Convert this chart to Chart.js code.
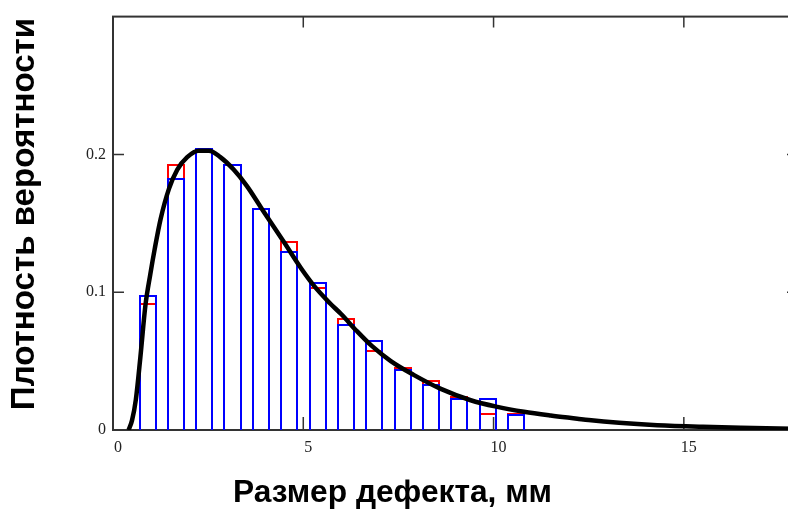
<!DOCTYPE html>
<html>
<head>
<meta charset="utf-8">
<script src="https://cdn.jsdelivr.net/npm/chart.js@4.4.1/dist/chart.umd.min.js"></script>
<style>
  html, body { margin: 0; padding: 0; background: #fff; overflow: hidden; }
  #wrap { width: 800px; height: 511px; }
</style>
</head>
<body>
<div id="wrap"><canvas id="myChart"></canvas></div>
<script>
// histogram bins (centres, mm) and the two sets of frequencies
const binCenters = [0.91, 1.65, 2.40, 3.14, 3.89, 4.63, 5.38, 6.12, 6.87, 7.61, 8.36, 9.10, 9.85, 10.59];
const freqRed  = [0.092, 0.193, 0.2045, 0.193, 0.161, 0.137, 0.1036, 0.081, 0.058, 0.046, 0.036, 0.0245, 0.0125, 0.0125];
const freqBlue = [0.098, 0.183, 0.2045, 0.193, 0.161, 0.130, 0.1074, 0.077, 0.065, 0.044, 0.0336, 0.023, 0.0233, 0.0115];

// density curve
const curveX = [0.41, 0.5, 0.6, 0.72, 0.85, 0.98, 1.1, 1.25, 1.47, 1.69, 1.95, 2.25, 2.52, 2.82, 3.17, 3.52, 3.9, 4.5, 4.95, 5.3, 5.7, 6.0, 6.4, 6.8, 7.3, 7.9, 8.6, 9.4, 10.1, 10.8, 11.5, 12.2, 12.5, 13.3, 14.3, 15.5, 16.5, 17.5, 18.0];
const curveY = [0, 0.007, 0.022, 0.053, 0.09, 0.113, 0.132, 0.153, 0.175, 0.189, 0.198, 0.2027, 0.2027, 0.198, 0.189, 0.177, 0.161, 0.136, 0.117, 0.104, 0.092, 0.084, 0.072, 0.061, 0.050, 0.040, 0.030, 0.0216, 0.0168, 0.0132, 0.0105, 0.0082, 0.0072, 0.0052, 0.0035, 0.0023, 0.0016, 0.0011, 0.0009];

const xTicks = [0, 5, 10, 15];
const yTicks = [0, 0.1, 0.2];
const xTitle = 'Размер дефекта, мм';
const yTitle = 'Плотность вероятности';

const tickFont = { family: '"Liberation Serif", "DejaVu Serif", serif', size: 16 };

// box round the plot, inward tick marks, axis titles
const frame = {
  id: 'frame',
  beforeDatasetsDraw(chart) {
    const { ctx, chartArea: a, scales: { x, y } } = chart;
    // snap bar edges to whole pixels so red and blue sides don't blend
    chart.data.datasets.forEach((ds, i) => {
      const meta = chart.getDatasetMeta(i);
      if (meta.type !== 'bar') return;
      meta.data.forEach(el => {
        const l = Math.round(el.x - el.width / 2), r = Math.round(el.x + el.width / 2);
        el.x = (l + r) / 2;
        el.width = r - l;
        el.y = Math.round(el.y);
        el.base = Math.round(el.base);
      });
    });
    ctx.save();
    ctx.lineWidth = 2;
    ctx.strokeStyle = '#333';
    ctx.strokeRect(a.left, a.top, a.right - a.left, a.bottom - a.top);
    ctx.lineWidth = 1.5;
    ctx.beginPath();
    xTicks.filter(v => v > 0).forEach(v => {
      const px = x.getPixelForValue(v);
      ctx.moveTo(px, a.bottom); ctx.lineTo(px, a.bottom - 13);
      ctx.moveTo(px, a.top); ctx.lineTo(px, a.top + 11);
    });
    yTicks.filter(v => v > 0).forEach(v => {
      const py = y.getPixelForValue(v);
      ctx.moveTo(a.left, py); ctx.lineTo(a.left + 11, py);
      ctx.moveTo(a.right, py); ctx.lineTo(a.right - 11, py);
    });
    ctx.stroke();
    ctx.restore();
  },
  afterDraw(chart) {
    const ctx = chart.ctx;
    const fam = '"Liberation Sans", Arial, sans-serif';
    const fit = (txt, target) => {
      ctx.font = 'bold 100px ' + fam;
      return 100 * target / ctx.measureText(txt).width;
    };
    ctx.save();
    ctx.fillStyle = '#000';
    ctx.textAlign = 'center';
    ctx.textBaseline = 'alphabetic';
    ctx.font = 'bold ' + fit(xTitle, 319).toFixed(1) + 'px ' + fam;
    ctx.fillText(xTitle, 392.5, 502);
    ctx.translate(34, 214);
    ctx.rotate(-Math.PI / 2);
    ctx.font = 'bold ' + fit(yTitle, 392).toFixed(1) + 'px ' + fam;
    ctx.fillText(yTitle, 0, 0);
    ctx.restore();
  }
};

new Chart(document.getElementById('myChart'), {
  type: 'bar',
  data: {
    datasets: [{
      type: 'line',
      data: curveX.map((v, i) => ({ x: v, y: curveY[i] })),
      borderColor: '#000',
      borderWidth: 4.5,
      pointRadius: 0,
      cubicInterpolationMode: 'monotone',
      order: 0
    }, {
      data: binCenters.map((v, i) => ({ x: v, y: freqBlue[i] })),
      backgroundColor: 'rgba(0,0,0,0)',
      borderColor: '#0000ff',
      borderWidth: 2,
      grouped: false,
      categoryPercentage: 1,
      barPercentage: 0.64,
      order: 1
    }, {
      data: binCenters.map((v, i) => ({ x: v, y: freqRed[i] })),
      backgroundColor: 'rgba(0,0,0,0)',
      borderColor: '#ff0000',
      borderWidth: 2,
      grouped: false,
      categoryPercentage: 1,
      barPercentage: 0.64,
      order: 2
    }]
  },
  options: {
    responsive: true,
    maintainAspectRatio: false,
    devicePixelRatio: 1,
    animation: false,
    layout: { padding: { top: 12, right: 2, left: 0, bottom: 0 } },
    plugins: { legend: { display: false }, tooltip: { enabled: false } },
    scales: {
      x: {
        type: 'linear',
        min: 0,
        max: 18,
        offset: false,
        grid: { display: false, drawTicks: false, offset: false },
        border: { display: false },
        afterBuildTicks: s => { s.ticks = xTicks.map(v => ({ value: v })); },
        afterFit: s => { s.height = 81; },
        ticks: { padding: 8, labelOffset: 5, maxRotation: 0, autoSkip: false, font: tickFont, color: '#222', callback: v => String(v) }
      },
      y: {
        min: 0,
        max: 0.3,
        grid: { display: false, drawTicks: false },
        border: { display: false },
        afterBuildTicks: s => { s.ticks = yTicks.map(v => ({ value: v })); },
        afterFit: s => { s.width = 113; },
        ticks: { padding: 7, font: tickFont, color: '#222', callback: v => String(v) }
      }
    }
  },
  plugins: [frame]
});
</script>
</body>
</html>
